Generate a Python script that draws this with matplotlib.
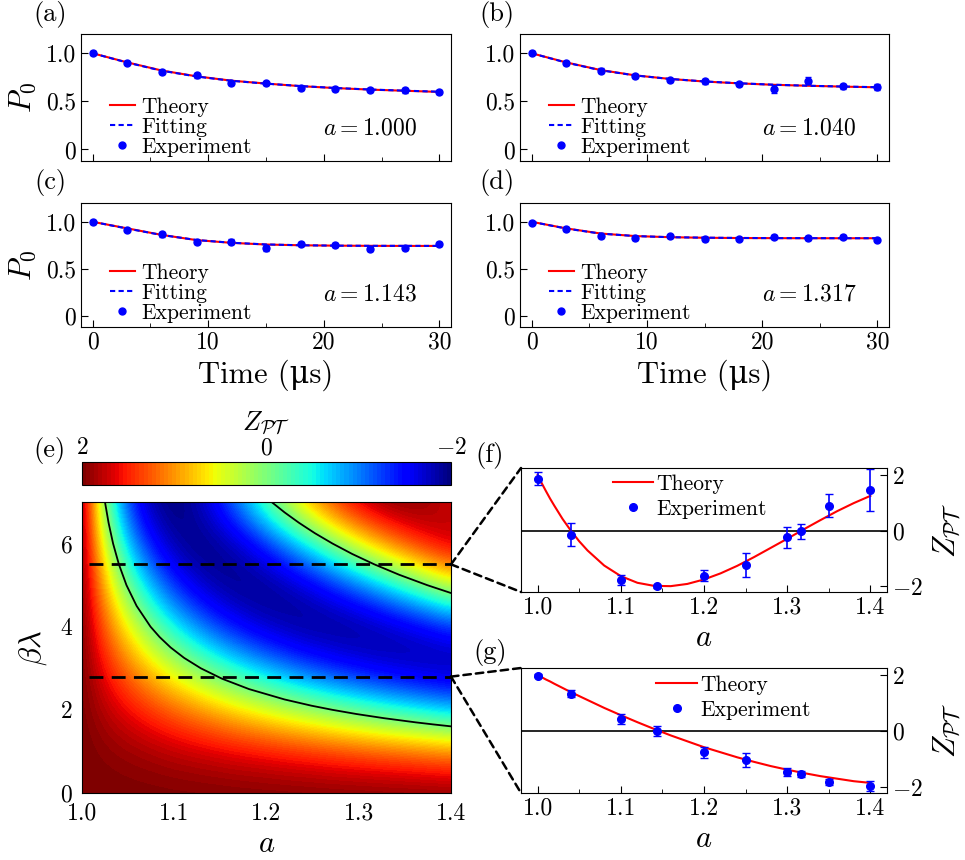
import matplotlib
matplotlib.use('Agg')
import matplotlib.pyplot as plt
from matplotlib.patches import ConnectionPatch
from matplotlib.ticker import MultipleLocator

plt.rcParams['font.family'] = 'serif'
plt.rcParams['font.serif'] = ['cmr10']
plt.rcParams['mathtext.fontset'] = 'cm'
plt.rcParams['axes.formatter.use_mathtext'] = True

# ---- panels (a)-(d): P0 vs time ----
t = [0, 3, 6, 9, 12, 15, 18, 21, 24, 27, 30]

theory_a = [1.0, 0.905, 0.82, 0.76, 0.715, 0.685, 0.658, 0.638, 0.622, 0.61, 0.598]
fit_a = [1.0, 0.903, 0.818, 0.758, 0.714, 0.684, 0.659, 0.639, 0.623, 0.611, 0.6]
exp_a = [1.0, 0.903, 0.807, 0.772, 0.686, 0.686, 0.638, 0.624, 0.621, 0.614, 0.597]
err_a = [0.02, 0.02, 0.02, 0.025, 0.02, 0.02, 0.02, 0.02, 0.02, 0.025, 0.025]

theory_b = [1.0, 0.905, 0.825, 0.77, 0.733, 0.706, 0.687, 0.672, 0.662, 0.653, 0.646]
fit_b = [1.0, 0.903, 0.823, 0.769, 0.733, 0.707, 0.688, 0.673, 0.662, 0.654, 0.647]
exp_b = [1.007, 0.897, 0.817, 0.766, 0.717, 0.71, 0.679, 0.628, 0.714, 0.655, 0.648]
err_b = [0.02, 0.02, 0.025, 0.02, 0.02, 0.025, 0.02, 0.04, 0.035, 0.025, 0.03]

theory_c = [1.0, 0.93, 0.86, 0.805, 0.776, 0.758, 0.75, 0.746, 0.744, 0.743, 0.743]
fit_c = [1.0, 0.928, 0.859, 0.806, 0.777, 0.759, 0.75, 0.746, 0.744, 0.744, 0.743]
exp_c = [1.0, 0.917, 0.868, 0.788, 0.788, 0.722, 0.764, 0.753, 0.712, 0.722, 0.764]
err_c = [0.02, 0.02, 0.025, 0.02, 0.025, 0.03, 0.02, 0.02, 0.025, 0.025, 0.025]

theory_d = [1.0, 0.93, 0.875, 0.848, 0.836, 0.83, 0.827, 0.826, 0.825, 0.825, 0.825]
fit_d = [1.0, 0.928, 0.874, 0.848, 0.836, 0.831, 0.828, 0.826, 0.826, 0.825, 0.825]
exp_d = [0.99, 0.924, 0.851, 0.826, 0.844, 0.816, 0.816, 0.840, 0.830, 0.837, 0.809]
err_d = [0.015, 0.02, 0.02, 0.02, 0.02, 0.02, 0.015, 0.02, 0.02, 0.02, 0.015]

a_values = ['1.000', '1.040', '1.143', '1.317']

# ---- panel (e): Z_PT map, rows = beta*lambda 0..7, cols = a 1.00..1.40 ----
map_a = [1.00, 1.02, 1.04, 1.06, 1.08, 1.10, 1.12, 1.14, 1.16, 1.18, 1.20,
         1.22, 1.24, 1.26, 1.28, 1.30, 1.32, 1.34, 1.36, 1.38, 1.40]
map_bl = [0, 1, 2, 3, 4, 5, 6, 7]
z_map = [
    [2.00] * 21,
    [2.00, 1.96, 1.92, 1.88, 1.84, 1.79, 1.75, 1.71, 1.66, 1.62, 1.58, 1.53, 1.49, 1.44, 1.39, 1.35, 1.30, 1.26, 1.21, 1.16, 1.11],
    [2.00, 1.84, 1.68, 1.53, 1.37, 1.22, 1.07, 0.92, 0.77, 0.63, 0.48, 0.34, 0.21, 0.08, -0.05, -0.18, -0.30, -0.42, -0.54, -0.65, -0.76],
    [2.00, 1.65, 1.31, 0.99, 0.68, 0.39, 0.12, -0.14, -0.38, -0.61, -0.81, -1.00, -1.18, -1.33, -1.47, -1.59, -1.70, -1.79, -1.86, -1.92, -1.96],
    [2.00, 1.39, 0.83, 0.33, -0.12, -0.52, -0.86, -1.16, -1.41, -1.61, -1.77, -1.88, -1.96, -1.99, -2.00, -1.97, -1.91, -1.82, -1.71, -1.58, -1.43],
    [2.00, 1.07, 0.28, -0.37, -0.90, -1.32, -1.63, -1.84, -1.96, -2.00, -1.97, -1.88, -1.73, -1.54, -1.31, -1.06, -0.79, -0.50, -0.21, 0.09, 0.37],
    [2.00, 0.71, -0.29, -1.03, -1.54, -1.85, -1.99, -1.98, -1.85, -1.63, -1.34, -0.99, -0.62, -0.23, 0.16, 0.54, 0.88, 1.19, 1.46, 1.68, 1.84],
    [2.00, 0.33, -0.83, -1.55, -1.92, -2.00, -1.85, -1.54, -1.12, -0.64, -0.14, 0.36, 0.82, 1.22, 1.54, 1.78, 1.94, 2.00, 1.97, 1.86, 1.68],
]
# zero contours of the map
c1_bl = [7.0, 6.5, 6.0, 5.5, 5.0, 4.5, 4.0, 3.75, 3.5, 3.25, 3.0, 2.75, 2.5, 2.25, 2.1, 2.0, 1.9, 1.8, 1.7, 1.65, 1.6]
c1_a = [1.0249, 1.0288, 1.0337, 1.0400, 1.0482, 1.0592, 1.0743, 1.0842, 1.0961, 1.1107, 1.1288,
        1.1517, 1.1810, 1.2196, 1.2488, 1.2716, 1.2975, 1.3273, 1.3615, 1.3807, 1.4014]
c2_bl = [7.0, 6.75, 6.5, 6.25, 6.0, 5.75, 5.5, 5.25, 5.0, 4.8]
c2_a = [1.2055, 1.2196, 1.2352, 1.2524, 1.2716, 1.2929, 1.3169, 1.3438, 1.3742, 1.4014]
cut_f, cut_g = 5.5, 2.8

# ---- panels (f), (g): Z_PT vs a ----
a_theory = [1.0, 1.001, 1.0025, 1.005, 1.01, 1.015, 1.02, 1.03, 1.04, 1.05, 1.06, 1.08, 1.10, 1.12,
            1.14, 1.16, 1.18, 1.20, 1.22, 1.24, 1.26, 1.28, 1.30, 1.32, 1.34, 1.36, 1.38, 1.40]
theory_f = [2.0, 1.94, 1.85, 1.70, 1.42, 1.15, 0.90, 0.42, 0.00, -0.38, -0.71, -1.25, -1.63, -1.87,
            -1.98, -1.99, -1.91, -1.75, -1.53, -1.26, -0.95, -0.62, -0.29, 0.05, 0.38, 0.70, 0.99, 1.25]
theory_g = [2.0, 1.98, 1.96, 1.92, 1.84, 1.77, 1.69, 1.54, 1.39, 1.25, 1.11, 0.83, 0.57, 0.32,
            0.08, -0.15, -0.36, -0.57, -0.75, -0.93, -1.09, -1.24, -1.37, -1.49, -1.60, -1.69, -1.78, -1.84]
a_exp = [1.0, 1.04, 1.1, 1.143, 1.2, 1.25, 1.3, 1.317, 1.35, 1.4]
exp_f = [1.87, -0.14, -1.77, -2.0, -1.62, -1.23, -0.24, -0.02, 0.9, 1.46]
err_f = [0.22, 0.4, 0.19, 0.05, 0.2, 0.44, 0.39, 0.27, 0.41, 0.74]
exp_g = [1.97, 1.34, 0.42, 0.02, -0.75, -1.01, -1.46, -1.53, -1.81, -1.95]
err_g = [0.05, 0.14, 0.18, 0.18, 0.2, 0.25, 0.14, 0.1, 0.1, 0.18]

W, H = 965, 860


def px_axes(x0, y0, x1, y1):
    return fig.add_axes([x0 / W, 1 - y1 / H, (x1 - x0) / W, (y1 - y0) / H])


fig = plt.figure(figsize=(9.65, 8.6), dpi=100)

tick_fs = 17
lab_fs = 22
leg_fs = 15.5

boxes = [(81, 34, 451, 161), (520, 34, 889, 161), (81, 203, 451, 327), (520, 203, 889, 327)]
data = [(theory_a, fit_a, exp_a, err_a), (theory_b, fit_b, exp_b, err_b),
        (theory_c, fit_c, exp_c, err_c), (theory_d, fit_d, exp_d, err_d)]

for i in range(4):
    ax = px_axes(*boxes[i])
    th, ft, ex, er = data[i]
    ax.plot(t, th, color='red', lw=1.5, label='Theory')
    ax.plot(t, ft, color='blue', lw=1.5, dashes=(2.5, 1.6), label='Fitting')
    ax.errorbar(t, ex, yerr=er, fmt='o', color='blue', ms=5, capsize=2, elinewidth=1.2)
    ax.plot([], [], 'o', color='blue', ms=5, label='Experiment')
    ax.set_xlim(-1, 31)
    ax.set_ylim(-0.12, 1.2)
    ax.set_yticks([0, 0.5, 1.0])
    ax.set_yticklabels(['0', '0.5', '1.0'])
    ax.set_xticks([0, 10, 20, 30])
    ax.xaxis.set_minor_locator(MultipleLocator(5))
    ax.tick_params(direction='in', labelsize=tick_fs, length=5, top=False, right=False)
    ax.tick_params(which='minor', direction='in', length=3, top=False)
    ax.legend(loc='lower left', bbox_to_anchor=(0.078, 0.035), frameon=False, fontsize=leg_fs,
              handlelength=1.15, handletextpad=0.3, labelspacing=0.02, borderpad=0, borderaxespad=0)
    ax.text(0.655, 0.26, r'$a=%s$' % a_values[i], transform=ax.transAxes, fontsize=17, va='center')
    if i < 2:
        ax.set_xticklabels([])
    else:
        ax.set_xticklabels(['0', '10', '20', '30'])
        ax.set_xlabel('Time (μs)', fontsize=lab_fs, family=['cmr10', 'DejaVu Serif'], labelpad=4)
    if i % 2 == 0:
        ax.set_ylabel(r'$P_0$', fontsize=lab_fs, labelpad=6)

# panel (e)
ax_e = px_axes(82, 502, 451, 793)
cmap = plt.get_cmap('jet', 90)
da = (map_a[1] - map_a[0]) / 2
db = (map_bl[1] - map_bl[0]) / 2
im = ax_e.imshow(z_map, origin='lower', aspect='auto', cmap=cmap, vmin=-2, vmax=2,
                 extent=[map_a[0] - da, map_a[-1] + da, map_bl[0] - db, map_bl[-1] + db],
                 interpolation='bicubic', interpolation_stage='data')
ax_e.plot(c1_a, c1_bl, color='black', lw=1.3)
ax_e.plot(c2_a, c2_bl, color='black', lw=1.3)
ax_e.plot([1.008, 1.4], [cut_f, cut_f], color='black', lw=2, dashes=(5, 3))
ax_e.plot([1.008, 1.4], [cut_g, cut_g], color='black', lw=2, dashes=(5, 3))
ax_e.set_xlim(1.0, 1.4)
ax_e.set_ylim(0, 7)
ax_e.set_xticks([1.0, 1.1, 1.2, 1.3, 1.4])
ax_e.set_xticklabels(['1.0', '1.1', '1.2', '1.3', '1.4'])
ax_e.set_yticks([0, 2, 4, 6])
ax_e.set_yticklabels(['0', '2', '4', '6'])
ax_e.tick_params(length=0, labelsize=tick_fs, pad=7)
ax_e.set_xlabel(r'$a$', fontsize=lab_fs, labelpad=4)
ax_e.set_ylabel(r'$\beta\lambda$', fontsize=lab_fs, labelpad=8)

cax = px_axes(82, 462, 451, 485)
cb = fig.colorbar(im, cax=cax, orientation='horizontal')
cax.invert_xaxis()
cb.set_ticks([2, 0, -2])
cb.set_ticklabels(['$2$', '$0$', '$-2$'])
cax.xaxis.set_ticks_position('top')
cax.xaxis.set_label_position('top')
cax.tick_params(length=0, labelsize=tick_fs, pad=2)
cb.set_label(r'$Z_{\mathcal{PT}}$', fontsize=19, labelpad=6)
cb.outline.set_linewidth(0.8)

# panels (f), (g)
ax_f = px_axes(521, 468, 887, 592)
ax_g = px_axes(521, 668, 887, 793)
for ax, th, ex, er, leg_pos in [(ax_f, theory_f, exp_f, err_f, (0.25, 0.95)),
                                 (ax_g, theory_g, exp_g, err_g, (0.37, 0.94))]:
    ax.axhline(0, color='black', lw=1.2)
    ax.plot(a_theory, th, color='red', lw=1.5, label='Theory')
    ax.errorbar(a_exp, ex, yerr=er, fmt='o', color='blue', ms=5.5, capsize=3, elinewidth=1.2)
    ax.plot([], [], 'o', color='blue', ms=5.5, label='Experiment')
    ax.set_xlim(0.98, 1.42)
    ax.set_ylim(-2.2, 2.25)
    ax.set_xticks([1.0, 1.1, 1.2, 1.3, 1.4])
    ax.set_xticklabels(['1.0', '1.1', '1.2', '1.3', '1.4'])
    ax.xaxis.set_minor_locator(MultipleLocator(0.05))
    ax.set_yticks([-2, 0, 2])
    ax.set_yticklabels(['$-2$', '$0$', '$2$'])
    ax.yaxis.tick_right()
    ax.yaxis.set_label_position('right')
    ax.tick_params(direction='in', labelsize=tick_fs, length=5, left=False, top=False)
    ax.tick_params(which='minor', direction='in', length=3, left=False, right=False, top=False)
    ax.set_xlabel(r'$a$', fontsize=lab_fs, labelpad=4)
    ax.set_ylabel(r'$Z_{\mathcal{PT}}$', fontsize=lab_fs, labelpad=6)
    ax.legend(loc='upper left', bbox_to_anchor=leg_pos, frameon=False, fontsize=leg_fs,
              handlelength=1.9, handletextpad=0.15, labelspacing=0.25, borderpad=0, borderaxespad=0)

# dashed connectors from the cuts in (e) to (f) and (g)
for cut, ax in [(cut_f, ax_f), (cut_g, ax_g)]:
    for corner in [(0, 1), (0, 0)]:
        con = ConnectionPatch(xyA=(1.4, cut), coordsA=ax_e.transData, xyB=corner,
                              coordsB=ax.transAxes, color='black', lw=1.8, linestyle=(0, (3, 2)))
        fig.add_artist(con)

# panel letters
for letter, x, y in [('(a)', 50, 15), ('(b)', 497, 15), ('(c)', 50, 182), ('(d)', 497, 182),
                     ('(e)', 49, 450), ('(f)', 490, 455), ('(g)', 490, 653)]:
    fig.text(x / W, 1 - y / H, letter, fontsize=19, ha='center', va='center')

fig.savefig('out.png', dpi=100)
